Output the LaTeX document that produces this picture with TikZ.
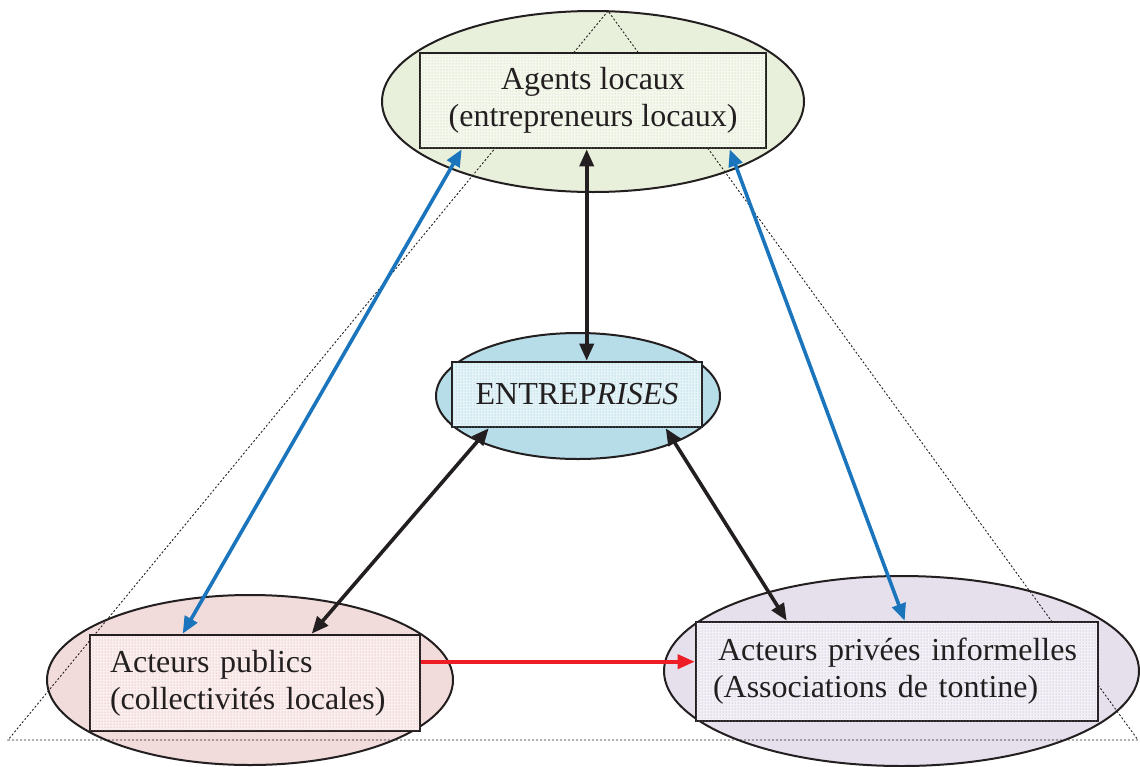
\documentclass[tikz,border=0pt]{standalone}
\usepackage{fontspec}
\setmainfont{Liberation Serif}
\usetikzlibrary{arrows.meta,shapes.geometric,patterns,calc}
\definecolor{ink}{HTML}{231F20}
\definecolor{greenE}{HTML}{E8EFDA}
\definecolor{blueE}{HTML}{B6DDE8}
\definecolor{pinkE}{HTML}{F2DBDB}
\definecolor{purpE}{HTML}{E5E0EC}
\definecolor{greenD}{HTML}{B8CF96}
\definecolor{blueD}{HTML}{6EC3DA}
\definecolor{pinkD}{HTML}{EC9090}
\definecolor{purpD}{HTML}{A79BC6}
\definecolor{arrBlue}{HTML}{1A75BC}
\definecolor{arrRed}{HTML}{EE1C25}
\begin{document}
\begin{tikzpicture}[x=1pt,y=-1pt,
  ell/.style={ellipse, draw=ink, line width=2pt, inner sep=0pt},
  box/.style={rectangle, draw=ink, line width=2.6pt, inner sep=0pt,
    font=\fontsize{32}{37}\selectfont, text=ink},
  tri/.style={draw=ink, line width=0.9pt, dash pattern=on 2pt off 2pt},
  link/.style={line width=3.6pt, {Triangle[length=17pt,width=14pt]}-{Triangle[length=17pt,width=14pt]}},
  onelink/.style={line width=3.6pt, -{Triangle[length=17pt,width=14pt]}},
]
\useasboundingbox (0,0) rectangle (1140,766);

% ellipses
\node[ell, fill=greenE, minimum width=422pt, minimum height=181pt] (agentsEl) at (593,101.5) {};
\node[ell, fill=blueE, minimum width=284pt, minimum height=126pt] (entEl) at (578,396) {};
\node[ell, fill=pinkE, minimum width=406pt, minimum height=170pt] (pubEl) at (250,680) {};
\node[ell, fill=purpE, minimum width=475pt, minimum height=190pt] (privEl) at (901.5,671) {};

% dotted triangle
\coordinate (apex) at (608,11);
\coordinate (bl) at (8,740);
\coordinate (br) at (1138,740);
\draw[tri] (apex) -- (bl) -- (br) -- cycle;

% boxes
\node[box, fill=greenE!45!white, minimum width=346pt, minimum height=95pt, align=center,
  postaction={pattern=dots, pattern color=greenD}] (agents) at (593,100.5)
  {Agents locaux\\(entrepreneurs locaux)};
\node[box, fill=blueE!35!white, minimum width=250pt, minimum height=65pt,
  postaction={pattern=dots, pattern color=blueD}] (ent) at (577,394.5)
  {ENTREP\textit{RISES}};
\node[box, fill=pinkE!45!white, text width=290pt, inner xsep=20pt, minimum height=96pt, align=left,
  postaction={pattern=dots, pattern color=pinkD}] (pub) at (255,683)
  {Acteurs publics\\(collectivités locales)};
\node[box, fill=purpE!45!white, text width=378pt, inner xsep=12pt, minimum height=99pt, align=left,
  postaction={pattern=dots, pattern color=purpD}] (priv) at (897,671.5)
  {\hspace*{10pt}Acteurs privées informelles\\\hspace*{5pt}(Associations de tontine)};

% connectors
\draw[link, ink] ([xshift=168pt]agents.south west) -- ([xshift=136pt]ent.north west);
\draw[link, arrBlue] ([xshift=43pt]agents.south west) -- ([xshift=94pt]pub.north west);
\draw[link, arrBlue] ([xshift=311pt]agents.south west) -- ([xshift=210pt]priv.north west);
\draw[link, ink] ([xshift=38pt]ent.south west) -- ([xshift=223pt]pub.north west);
\draw[link, ink] ([xshift=215pt]ent.south west) -- ([xshift=92pt]priv.north west);
\coordinate (r1) at ($(pub.north east)+(0,28)$);
\draw[onelink, arrRed] (r1) -- (r1 -| priv.west);
\end{tikzpicture}
\end{document}
